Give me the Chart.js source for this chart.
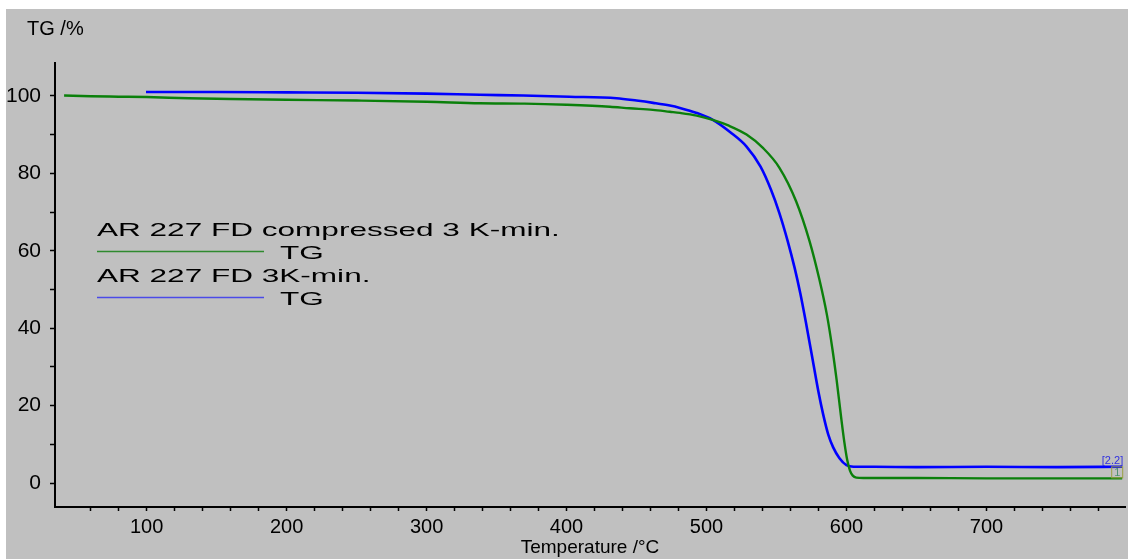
<!DOCTYPE html>
<html>
<head>
<meta charset="utf-8">
<script src="https://cdn.jsdelivr.net/npm/chart.js@4/dist/chart.umd.min.js"></script>
<style>
  html, body { margin: 0; padding: 0; background: #ffffff; }
  #wrap { position: absolute; left: 6px; top: 9px; width: 1122px; height: 550px; background: #c0c0c0; }
  canvas { display: block; }
</style>
</head>
<body>
<div id="wrap"><canvas id="tg" width="1122" height="550"></canvas></div>
<script>
// Thermogravimetric curves: mass (TG, %) against temperature (°C)
const compressedLabel = 'AR 227 FD compressed 3 K-min.';
const compressedTemp = [41, 60, 80, 100, 130, 160, 200, 250, 300, 338, 370, 400, 431, 445, 461.6, 473.8, 481, 493, 504.5, 516, 528.6, 540.5, 552, 564, 573.6, 580.7, 586, 590, 593, 596, 598.5, 600.5, 602.5, 604.5, 607, 612, 650, 700, 750, 797];
const compressedTG   = [100.1, 99.9, 99.8, 99.7, 99.4, 99.2, 99.0, 98.8, 98.5, 98.1, 98.0, 97.7, 97.2, 96.8, 96.4, 95.9, 95.6, 94.9, 93.8, 92.3, 90.0, 86.5, 81.5, 72.8, 62.5, 52.5, 43.5, 34.5, 26.5, 17.5, 10.5, 6.0, 3.2, 1.9, 1.4, 1.3, 1.3, 1.2, 1.2, 1.2];

const looseLabel = 'AR 227 FD 3K-min.';
const looseTemp = [99.5, 150, 200, 250, 300, 338, 369, 402, 435.7, 450, 461.9, 473.8, 481, 493, 504.5, 517, 528.6, 538.6, 546, 552, 558, 563, 567, 571, 576, 580, 583.3, 587, 590.5, 595, 600, 605, 620, 650, 700, 750, 797];
const looseTG   = [101.0, 101.0, 100.9, 100.8, 100.6, 100.3, 100.1, 99.8, 99.4, 98.8, 98.2, 97.5, 96.9, 95.6, 93.8, 90.6, 86.9, 81.7, 75.8, 69.8, 62.5, 55.5, 49.0, 41.5, 31.5, 23.5, 17.8, 12.5, 9.2, 6.4, 4.6, 4.2, 4.2, 4.1, 4.2, 4.1, 4.2];

const seriesSignal = 'TG';
const endTags = ['1', '2.2'];

const xTickValues = [60, 80, 100, 120, 140, 160, 180, 200, 220, 240, 260, 280, 300, 320, 340, 360, 380, 400, 420, 440, 460, 480, 500, 520, 540, 560, 580, 600, 620, 640, 660, 680, 700, 720, 740, 760, 780];
const xLabelValues = [100, 200, 300, 400, 500, 600, 700];
const yTickValues = [0, 10, 20, 30, 40, 50, 60, 70, 80, 90, 100];
const yLabelValues = [0, 20, 40, 60, 80, 100];

const xTitle = 'Temperature /°C';
const yTitle = 'TG /%';

const FONT = '"Liberation Sans", Arial, sans-serif';
const GREEN = '#0b800b';
const BLUE = '#0000ff';

const toPoints = (xs, ys) => xs.map((x, i) => ({ x: x, y: ys[i] }));

// Legend, y title and curve end tags drawn on top of the plot
const overlay = {
  id: 'overlay',
  afterDraw(chart) {
    const ctx = chart.ctx;
    ctx.save();
    ctx.fillStyle = '#000';
    ctx.textBaseline = 'alphabetic';
    ctx.textAlign = 'left';
    ctx.font = '20px ' + FONT;
    ctx.fillText(yTitle, 21, 25.5);

    // stretched legend text
    const stretch = 1.66;
    const drawWide = (txt, x, y) => {
      ctx.save();
      ctx.translate(x, y);
      ctx.scale(stretch, 1);
      ctx.fillText(txt, 0, 0);
      ctx.restore();
    };
    ctx.font = '19px ' + FONT;
    const rows = [
      { ds: chart.data.datasets[0], y: 227 },
      { ds: chart.data.datasets[1], y: 273 }
    ];
    rows.forEach(r => {
      ctx.fillStyle = '#000';
      drawWide(r.ds.label, 91, r.y);
      ctx.strokeStyle = r.ds.legendColor;
      ctx.lineWidth = 1.4;
      ctx.beginPath();
      ctx.moveTo(91, r.y + 15.5);
      ctx.lineTo(258, r.y + 15.5);
      ctx.stroke();
      ctx.fillStyle = '#000';
      drawWide(seriesSignal, 274, r.y + 22.5);
    });

    // tags at the curve ends
    const xs = chart.scales.x, ys = chart.scales.y;
    const gx = xs.getPixelForValue(compressedTemp[compressedTemp.length - 1]);
    const gy = ys.getPixelForValue(compressedTG[compressedTG.length - 1]);
    const bx = xs.getPixelForValue(looseTemp[looseTemp.length - 1]);
    const by = ys.getPixelForValue(looseTG[looseTG.length - 1]);

    ctx.font = '11px ' + FONT;
    ctx.textAlign = 'right';
    ctx.fillStyle = '#3030e0';
    ctx.fillText('[' + endTags[1] + ']', bx + 1, by - 2.5);

    ctx.strokeStyle = '#9aa040';
    ctx.lineWidth = 1;
    ctx.strokeRect(gx - 10.5, gy - 11.5, 11, 11);
    ctx.fillStyle = '#4f8f70';
    ctx.textAlign = 'center';
    ctx.fillText(endTags[0], gx - 5, gy - 2);
    ctx.restore();
  }
};

new Chart(document.getElementById('tg'), {
  type: 'scatter',
  data: {
    datasets: [
      {
        label: compressedLabel,
        data: toPoints(compressedTemp, compressedTG),
        showLine: true,
        borderColor: GREEN,
        legendColor: '#2f8a2f',
        borderWidth: 2.4,
        pointRadius: 0,
        cubicInterpolationMode: 'monotone'
      },
      {
        label: looseLabel,
        data: toPoints(looseTemp, looseTG),
        showLine: true,
        borderColor: BLUE,
        legendColor: '#4a4ae8',
        borderWidth: 2.6,
        pointRadius: 0,
        cubicInterpolationMode: 'monotone'
      }
    ]
  },
  options: {
    responsive: false,
    animation: false,
    devicePixelRatio: 1,
    layout: { padding: { top: 54, right: 3, left: 0, bottom: 0 } },
    plugins: { legend: { display: false }, tooltip: { enabled: false } },
    scales: {
      x: {
        type: 'linear',
        position: 'bottom',
        min: 34.5,
        max: 799,
        afterBuildTicks: s => { s.ticks = xTickValues.map(v => ({ value: v })); },
        afterFit: s => { s.height = 52; },
        grid: { display: true, drawOnChartArea: false, drawTicks: true, tickLength: 4, tickWidth: 1.5, tickColor: '#000' },
        border: { display: true, color: '#000', width: 2 },
        ticks: {
          autoSkip: false,
          maxRotation: 0,
          padding: 4,
          color: '#000',
          font: { family: FONT, size: 20 },
          callback: v => (xLabelValues.includes(v) ? String(v) : '')
        },
        title: {
          display: true,
          text: xTitle,
          color: '#000',
          font: { family: FONT, size: 19 },
          padding: { top: 0, bottom: 0 }
        }
      },
      y: {
        type: 'linear',
        min: -6.2,
        max: 108.5,
        afterBuildTicks: s => { s.ticks = yTickValues.map(v => ({ value: v })); },
        afterFit: s => { s.width = 49; },
        grid: { display: true, drawOnChartArea: false, drawTicks: true, tickLength: 5, tickWidth: 1.5, tickColor: '#000' },
        border: { display: true, color: '#000', width: 2 },
        ticks: {
          autoSkip: false,
          padding: 9,
          color: '#000',
          font: { family: FONT, size: 21 },
          callback: v => (yLabelValues.includes(v) ? String(v) : '')
        }
      }
    }
  },
  plugins: [overlay]
});
</script>
</body>
</html>
